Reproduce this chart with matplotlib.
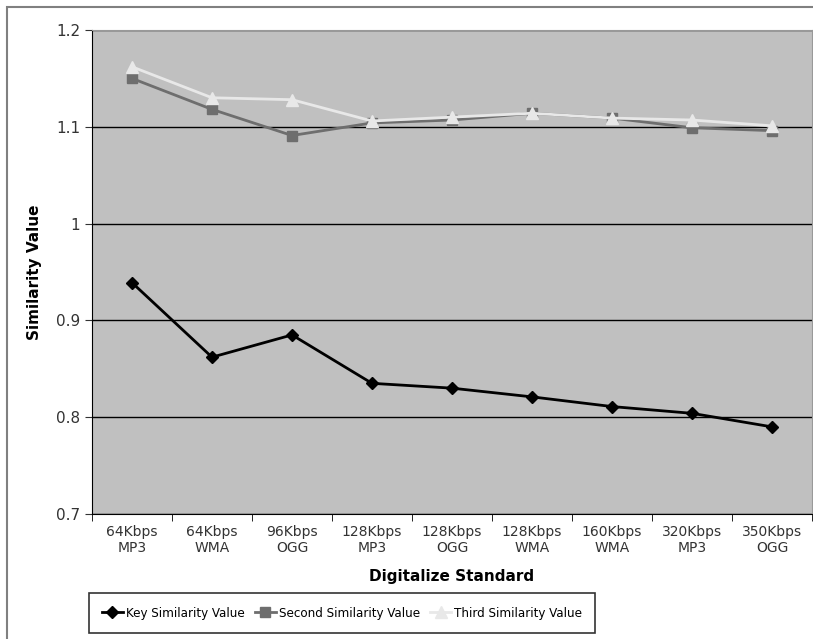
import matplotlib.pyplot as plt
from matplotlib.patches import Rectangle
from matplotlib.ticker import FixedLocator, FuncFormatter

categories = ["64Kbps\nMP3", "64Kbps\nWMA", "96Kbps\nOGG", "128Kbps\nMP3", "128Kbps\nOGG",
              "128Kbps\nWMA", "160Kbps\nWMA", "320Kbps\nMP3", "350Kbps\nOGG"]
key_sim = [0.939, 0.862, 0.885, 0.835, 0.830, 0.821, 0.811, 0.804, 0.790]
second_sim = [1.150, 1.118, 1.091, 1.104, 1.107, 1.114, 1.109, 1.099, 1.096]
third_sim = [1.162, 1.130, 1.128, 1.106, 1.110, 1.114, 1.109, 1.107, 1.101]
y_ticks = [0.7, 0.8, 0.9, 1.0, 1.1, 1.2]

fig = plt.figure(figsize=(8.13, 6.39), dpi=100)
# outer chart border
fig.patches.append(Rectangle((7 / 813, -0.1), 1.2, 1 - 7 / 639 + 0.1, transform=fig.transFigure,
                             fill=False, edgecolor="#808080", linewidth=1.5))

ax = fig.add_axes([92 / 813, 1 - 514 / 639, 720 / 813, 484 / 639])
ax.set_facecolor("#c0c0c0")
x = range(len(categories))

ax.plot(x, key_sim, color="black", lw=2, marker="D", ms=6, label="Key Similarity Value")
ax.plot(x, second_sim, color="#6e6e6e", lw=2, marker="s", ms=7, label="Second Similarity Value")
ax.plot(x, third_sim, color="#e8e8e8", lw=2, marker="^", ms=8, label="Third Similarity Value")

ax.set_xlim(-0.5, len(categories) - 0.5)
ax.set_ylim(0.7, 1.2)
ax.set_yticks(y_ticks)
ax.yaxis.set_major_formatter(FuncFormatter(lambda v, p: f"{v:g}"))
ax.yaxis.grid(True, color="black", lw=1)
ax.set_axisbelow(True)

ax.set_xticks(list(x))
ax.set_xticklabels(categories, fontsize=10, color="#333333")
ax.xaxis.set_minor_locator(FixedLocator([i + 0.5 for i in range(-1, len(categories))]))
ax.tick_params(axis="x", which="major", length=0, pad=8)
ax.tick_params(axis="x", which="minor", length=5, direction="out")
ax.tick_params(axis="y", length=5, labelsize=11, colors="#333333")

for side in ["top", "right"]:
    ax.spines[side].set_color("#999999")
ax.spines["left"].set_color("black")
ax.spines["bottom"].set_color("black")

ax.set_ylabel("Similarity Value", fontsize=11, fontweight="bold", labelpad=10)
ax.set_xlabel("Digitalize Standard", fontsize=11, fontweight="bold", labelpad=10)

leg = fig.legend(loc="center", bbox_to_anchor=(342 / 813, 1 - 613 / 639), ncol=3,
                 prop={"family": "DejaVu Sans", "stretch": "condensed", "size": 9.5},
                 frameon=True, fancybox=False, edgecolor="black", handlelength=1.6,
                 handletextpad=0.2, columnspacing=0.8, borderpad=1.0)
leg.get_frame().set_linewidth(1.2)

fig.savefig("out.png", dpi=100)
